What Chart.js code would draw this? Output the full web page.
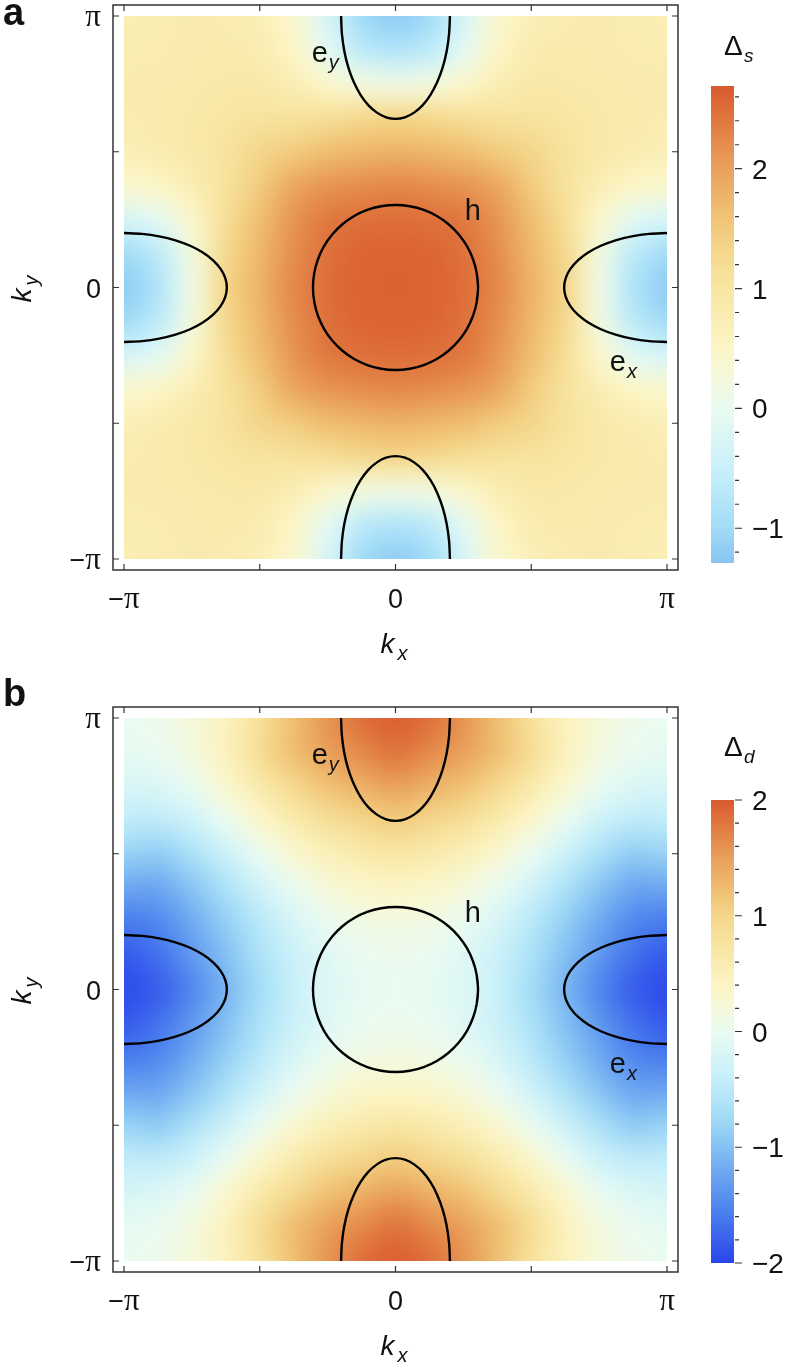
<!DOCTYPE html>
<html>
<head>
<meta charset="utf-8">
<script src="https://cdn.jsdelivr.net/npm/chart.js@4.4.1/dist/chart.umd.min.js"></script>
<style>
  body { margin: 0; background: #fff; width: 788px; height: 1366px; position: relative; overflow: hidden; }
  canvas { position: absolute; }
</style>
</head>
<body>
<canvas id="mapA" width="700" height="670" style="left:0;top:0"></canvas>
<canvas id="barA" width="88" height="670" style="left:700px;top:0"></canvas>
<canvas id="mapB" width="700" height="696" style="left:0;top:670px"></canvas>
<canvas id="barB" width="88" height="696" style="left:700px;top:670px"></canvas>
<script>
const PI = Math.PI;

// axis ticks of both maps (multiples of pi/2)
const kTickValues = [-PI, -PI / 2, 0, PI / 2, PI];
const kTickLabels = ['−π', '', '0', '', 'π'];

// sampled gap values, rows go from ky = pi (top) to ky = -pi, columns kx = -pi .. pi, step pi/8
const gridStep = PI / 8;
const deltaS = [
  [0.75, 0.78, 0.82, 0.80, 0.70, 0.40, -0.30, -1.00, -1.20, -1.00, -0.30, 0.40, 0.70, 0.80, 0.82, 0.78, 0.75],
  [0.78, 0.80, 0.82, 0.85, 0.80, 0.50, -0.10, -0.65, -0.80, -0.65, -0.10, 0.50, 0.80, 0.85, 0.82, 0.80, 0.78],
  [0.82, 0.82, 0.85, 0.90, 0.90, 0.75, 0.45, 0.22, 0.15, 0.22, 0.45, 0.75, 0.90, 0.90, 0.85, 0.82, 0.82],
  [0.80, 0.85, 0.90, 1.00, 1.05, 1.08, 1.15, 1.28, 1.35, 1.28, 1.15, 1.08, 1.05, 1.00, 0.90, 0.85, 0.80],
  [0.70, 0.80, 0.90, 1.05, 1.35, 1.48, 1.65, 1.74, 1.80, 1.74, 1.65, 1.48, 1.35, 1.05, 0.90, 0.80, 0.70],
  [0.40, 0.50, 0.75, 1.08, 1.48, 1.95, 2.12, 2.20, 2.25, 2.20, 2.12, 1.95, 1.48, 1.08, 0.75, 0.50, 0.40],
  [-0.30, -0.10, 0.45, 1.15, 1.65, 2.12, 2.40, 2.47, 2.50, 2.47, 2.40, 2.12, 1.65, 1.15, 0.45, -0.10, -0.30],
  [-1.00, -0.65, 0.22, 1.28, 1.74, 2.20, 2.47, 2.58, 2.60, 2.58, 2.47, 2.20, 1.74, 1.28, 0.22, -0.65, -1.00],
  [-1.20, -0.80, 0.15, 1.35, 1.80, 2.25, 2.50, 2.60, 2.62, 2.60, 2.50, 2.25, 1.80, 1.35, 0.15, -0.80, -1.20],
  [-1.00, -0.65, 0.22, 1.28, 1.74, 2.20, 2.47, 2.58, 2.60, 2.58, 2.47, 2.20, 1.74, 1.28, 0.22, -0.65, -1.00],
  [-0.30, -0.10, 0.45, 1.15, 1.65, 2.12, 2.40, 2.47, 2.50, 2.47, 2.40, 2.12, 1.65, 1.15, 0.45, -0.10, -0.30],
  [0.40, 0.50, 0.75, 1.08, 1.48, 1.95, 2.12, 2.20, 2.25, 2.20, 2.12, 1.95, 1.48, 1.08, 0.75, 0.50, 0.40],
  [0.70, 0.80, 0.90, 1.05, 1.35, 1.48, 1.65, 1.74, 1.80, 1.74, 1.65, 1.48, 1.35, 1.05, 0.90, 0.80, 0.70],
  [0.80, 0.85, 0.90, 1.00, 1.05, 1.08, 1.15, 1.28, 1.35, 1.28, 1.15, 1.08, 1.05, 1.00, 0.90, 0.85, 0.80],
  [0.82, 0.82, 0.85, 0.90, 0.90, 0.75, 0.45, 0.22, 0.15, 0.22, 0.45, 0.75, 0.90, 0.90, 0.85, 0.82, 0.82],
  [0.78, 0.80, 0.82, 0.85, 0.80, 0.50, -0.10, -0.65, -0.80, -0.65, -0.10, 0.50, 0.80, 0.85, 0.82, 0.80, 0.78],
  [0.75, 0.78, 0.82, 0.80, 0.70, 0.40, -0.30, -1.00, -1.20, -1.00, -0.30, 0.40, 0.70, 0.80, 0.82, 0.78, 0.75]
];
const deltaD = [
  [0.00, 0.05, 0.21, 0.46, 0.82, 1.22, 1.59, 1.85, 1.95, 1.85, 1.59, 1.22, 0.82, 0.46, 0.21, 0.05, 0.00],
  [-0.05, 0.00, 0.17, 0.47, 0.89, 1.23, 1.50, 1.67, 1.82, 1.67, 1.50, 1.23, 0.89, 0.47, 0.17, 0.00, -0.05],
  [-0.21, -0.17, 0.00, 0.31, 0.65, 0.96, 1.20, 1.36, 1.50, 1.36, 1.20, 0.96, 0.65, 0.31, 0.00, -0.17, -0.21],
  [-0.46, -0.47, -0.31, 0.00, 0.33, 0.63, 0.86, 1.00, 1.10, 1.00, 0.86, 0.63, 0.33, 0.00, -0.31, -0.47, -0.46],
  [-0.82, -0.89, -0.65, -0.33, 0.00, 0.29, 0.51, 0.64, 0.72, 0.64, 0.51, 0.29, 0.00, -0.33, -0.65, -0.89, -0.82],
  [-1.22, -1.23, -0.96, -0.63, -0.29, 0.00, 0.21, 0.34, 0.38, 0.34, 0.21, 0.00, -0.29, -0.63, -0.96, -1.23, -1.22],
  [-1.59, -1.50, -1.20, -0.86, -0.51, -0.21, 0.00, 0.12, 0.15, 0.12, 0.00, -0.21, -0.51, -0.86, -1.20, -1.50, -1.59],
  [-1.85, -1.67, -1.36, -1.00, -0.64, -0.34, -0.12, 0.00, 0.04, 0.00, -0.12, -0.34, -0.64, -1.00, -1.36, -1.67, -1.85],
  [-1.95, -1.82, -1.50, -1.10, -0.72, -0.38, -0.15, -0.04, 0.00, -0.04, -0.15, -0.38, -0.72, -1.10, -1.50, -1.82, -1.95],
  [-1.85, -1.67, -1.36, -1.00, -0.64, -0.34, -0.12, 0.00, 0.04, 0.00, -0.12, -0.34, -0.64, -1.00, -1.36, -1.67, -1.85],
  [-1.59, -1.50, -1.20, -0.86, -0.51, -0.21, 0.00, 0.12, 0.15, 0.12, 0.00, -0.21, -0.51, -0.86, -1.20, -1.50, -1.59],
  [-1.22, -1.23, -0.96, -0.63, -0.29, 0.00, 0.21, 0.34, 0.38, 0.34, 0.21, 0.00, -0.29, -0.63, -0.96, -1.23, -1.22],
  [-0.82, -0.89, -0.65, -0.33, 0.00, 0.29, 0.51, 0.64, 0.72, 0.64, 0.51, 0.29, 0.00, -0.33, -0.65, -0.89, -0.82],
  [-0.46, -0.47, -0.31, 0.00, 0.33, 0.63, 0.86, 1.00, 1.10, 1.00, 0.86, 0.63, 0.33, 0.00, -0.31, -0.47, -0.46],
  [-0.21, -0.17, 0.00, 0.31, 0.65, 0.96, 1.20, 1.36, 1.50, 1.36, 1.20, 0.96, 0.65, 0.31, 0.00, -0.17, -0.21],
  [-0.05, 0.00, 0.17, 0.47, 0.89, 1.23, 1.50, 1.67, 1.82, 1.67, 1.50, 1.23, 0.89, 0.47, 0.17, 0.00, -0.05],
  [0.00, 0.05, 0.21, 0.46, 0.82, 1.22, 1.59, 1.85, 1.95, 1.85, 1.59, 1.22, 0.82, 0.46, 0.21, 0.05, 0.00]
];

// Fermi surface: hole pocket around Gamma, traced every 10 degrees (first and last points wrap round)
const hPocketKx = [0.940, 0.955, 0.940, 0.897, 0.827, 0.732, 0.614, 0.478, 0.327, 0.166, 0,
  -0.166, -0.327, -0.478, -0.614, -0.732, -0.827, -0.897, -0.940, -0.955,
  -0.940, -0.897, -0.827, -0.732, -0.614, -0.478, -0.327, -0.166, 0,
  0.166, 0.327, 0.478, 0.614, 0.732, 0.827, 0.897, 0.940, 0.955, 0.940];
const hPocketKy = [-0.166, 0, 0.166, 0.327, 0.478, 0.614, 0.732, 0.827, 0.897, 0.940, 0.955,
  0.940, 0.897, 0.827, 0.732, 0.614, 0.478, 0.327, 0.166, 0,
  -0.166, -0.327, -0.478, -0.614, -0.732, -0.827, -0.897, -0.940, -0.955,
  -0.940, -0.897, -0.827, -0.732, -0.614, -0.478, -0.327, -0.166, 0, 0.166];
// electron pockets: offset along the zone edge and depth measured in from the edge
const pocketAcross = [-0.630, -0.620, -0.592, -0.546, -0.483, -0.405, -0.315, -0.215, -0.109, 0,
  0.109, 0.215, 0.315, 0.405, 0.483, 0.546, 0.592, 0.620, 0.630];
const pocketDepth = [0, 0.207, 0.407, 0.595, 0.765, 0.912, 1.031, 1.118, 1.172, 1.190,
  1.172, 1.118, 1.031, 0.912, 0.765, 0.595, 0.407, 0.207, 0];

// colour bars
const sRange = [-1.29, 2.69];
const sBarTicks = [-1, 0, 1, 2];
const sBarLabels = ['−1', '0', '1', '2'];
const dRange = [-2, 2];
const dBarTicks = [-2, -1, 0, 1, 2];
const dBarLabels = ['−2', '−1', '0', '1', '2'];

const cmapStops = [
  [-1.00, [42, 69, 234]],
  [-0.75, [80, 136, 238]],
  [-0.50, [132, 192, 243]],
  [-0.37, [162, 220, 246]],
  [-0.20, [198, 239, 250]],
  [0.00, [234, 251, 241]],
  [0.18, [252, 246, 200]],
  [0.37, [248, 230, 162]],
  [0.50, [244, 214, 138]],
  [0.62, [239, 189, 112]],
  [0.75, [233, 160, 90]],
  [0.88, [225, 124, 66]],
  [1.00, [217, 89, 45]]
];

function cmap(t) {
  t = Math.max(-1, Math.min(1, t));
  for (let i = 1; i < cmapStops.length; i++) {
    const [t1, c1] = cmapStops[i];
    const [t0, c0] = cmapStops[i - 1];
    if (t <= t1) {
      const f = (t - t0) / (t1 - t0);
      return c0.map((c, k) => Math.round(c + (c1[k] - c) * f));
    }
  }
  return cmapStops[cmapStops.length - 1][1];
}

const SANS = '"Liberation Sans", Arial, sans-serif';
const SERIF = '"Liberation Serif", "Times New Roman", serif';

// labels like "−π" mix a sans minus with a serif pi
function drawLabel(ctx, label, x, y, align) {
  const parts = label.split('').map(ch => ({ ch, font: ch === 'π' ? '31px ' + SERIF : '27px ' + SANS }));
  let w = 0;
  parts.forEach(p => { ctx.font = p.font; p.w = ctx.measureText(p.ch).width; w += p.w; });
  let cx = align === 'right' ? x - w : align === 'center' ? x - w / 2 : x;
  ctx.textAlign = 'left';
  parts.forEach(p => { ctx.font = p.font; ctx.fillText(p.ch, cx, y); cx += p.w; });
}

const heatPlugin = {
  id: 'heat',
  beforeDatasetsDraw(chart, args, opts) {
    const { ctx, chartArea: a, scales: { x, y } } = chart;
    const grid = opts.grid;
    const n = grid.length;
    const off = document.createElement('canvas');
    off.width = n; off.height = n;
    const octx = off.getContext('2d');
    const img = octx.createImageData(n, n);
    grid.forEach((row, r) => row.forEach((v, c) => {
      const col = cmap(v / opts.scale);
      const k = (r * n + c) * 4;
      img.data[k] = col[0]; img.data[k + 1] = col[1]; img.data[k + 2] = col[2]; img.data[k + 3] = 255;
    }));
    octx.putImageData(img, 0, 0);
    const half = gridStep / 2;
    const x0 = x.getPixelForValue(-PI - half), x1 = x.getPixelForValue(PI + half);
    const y0 = y.getPixelForValue(PI + half), y1 = y.getPixelForValue(-PI - half);
    ctx.save();
    ctx.beginPath();
    ctx.rect(a.left, a.top, a.right - a.left, a.bottom - a.top);
    ctx.clip();
    ctx.imageSmoothingEnabled = true;
    ctx.imageSmoothingQuality = 'high';
    ctx.drawImage(off, x0, y0, x1 - x0, y1 - y0);
    ctx.restore();
  }
};

const framePlugin = {
  id: 'frame',
  afterDraw(chart, args, o) {
    const { ctx, chartArea: a, scales: { x, y } } = chart;
    const g = 11;
    const L = a.left - g, R = a.right + g, T = a.top - g, B = a.bottom + g;
    ctx.save();
    ctx.strokeStyle = '#333';
    ctx.lineWidth = 1.5;
    ctx.strokeRect(L, T, R - L, B - T);
    ctx.lineWidth = 1.2;
    ctx.beginPath();
    kTickValues.forEach(v => {
      const px = x.getPixelForValue(v), py = y.getPixelForValue(v);
      ctx.moveTo(px, B); ctx.lineTo(px, B - 6);
      ctx.moveTo(px, T); ctx.lineTo(px, T + 6);
      ctx.moveTo(L, py); ctx.lineTo(L + 6, py);
      ctx.moveTo(R, py); ctx.lineTo(R - 6, py);
    });
    ctx.stroke();

    ctx.fillStyle = '#111';
    kTickValues.forEach((v, i) => {
      if (!kTickLabels[i]) return;
      drawLabel(ctx, kTickLabels[i], x.getPixelForValue(v), a.bottom + 49, 'center');
      drawLabel(ctx, kTickLabels[i], L - 12, y.getPixelForValue(v) + 10, 'right');
    });

    // axis titles
    const cx = x.getPixelForValue(0);
    ctx.textAlign = 'left';
    ctx.font = 'italic 28px ' + SANS;
    ctx.fillText('k', cx - 15, a.bottom + 94);
    ctx.font = 'italic 20px ' + SANS;
    ctx.fillText('x', cx + 2, a.bottom + 101);

    ctx.save();
    ctx.translate(31, y.getPixelForValue(0));
    ctx.rotate(-PI / 2);
    ctx.font = 'italic 28px ' + SANS;
    ctx.fillText('k', -15, 0);
    ctx.font = 'italic 20px ' + SANS;
    ctx.fillText('y', 2, 7);
    ctx.restore();

    // panel letter
    ctx.font = 'bold 38px ' + SANS;
    ctx.fillText(o.letter, 3, o.letterY);

    // pocket names
    o.names.forEach(nm => {
      const px = x.getPixelForValue(nm.kx), py = y.getPixelForValue(nm.ky);
      ctx.font = '29px ' + SANS;
      ctx.fillText(nm.t, px, py);
      if (nm.sub) {
        const w = ctx.measureText(nm.t).width;
        ctx.font = 'italic 20px ' + SANS;
        ctx.fillText(nm.sub, px + w + 1, py + 7);
      }
    });
    ctx.restore();
  }
};

function pocketSets() {
  const line = pts => ({
    data: pts,
    showLine: true,
    borderColor: '#000',
    borderWidth: 2.4,
    pointRadius: 0,
    tension: 0.3,
    fill: false,
    borderJoinStyle: 'round'
  });
  return [
    line(hPocketKx.map((kx, i) => ({ x: kx, y: hPocketKy[i] }))),
    line(pocketAcross.map((s, i) => ({ x: s, y: PI - pocketDepth[i] }))),
    line(pocketAcross.map((s, i) => ({ x: s, y: -PI + pocketDepth[i] }))),
    line(pocketAcross.map((s, i) => ({ x: PI - pocketDepth[i], y: s }))),
    line(pocketAcross.map((s, i) => ({ x: -PI + pocketDepth[i], y: s })))
  ];
}

const pocketNames = [
  { t: 'h', kx: 0.80, ky: 0.78 },
  { t: 'e', sub: 'y', kx: -0.97, ky: 2.61 },
  { t: 'e', sub: 'x', kx: 2.48, ky: -0.97 }
];

function buildMap(id, grid, scale, letter, letterY, top, bottom) {
  return new Chart(document.getElementById(id), {
    type: 'scatter',
    data: { datasets: pocketSets() },
    options: {
      responsive: false,
      animation: false,
      events: [],
      layout: { padding: { left: 124, right: 33, top, bottom } },
      scales: {
        x: { type: 'linear', min: -PI, max: PI, display: false },
        y: { type: 'linear', min: -PI, max: PI, display: false }
      },
      plugins: {
        legend: { display: false },
        tooltip: { enabled: false },
        heat: { grid, scale },
        frame: { letter, letterY, names: pocketNames }
      }
    },
    plugins: [heatPlugin, framePlugin]
  });
}

const barPlugin = {
  id: 'cbar',
  afterDraw(chart, args, o) {
    const { ctx, chartArea: a, scales: { y } } = chart;
    ctx.save();
    ctx.strokeStyle = '#333';
    ctx.lineWidth = 1.2;
    ctx.beginPath();
    for (let k = Math.ceil(o.range[0] * 5 - 1e-6); k <= Math.floor(o.range[1] * 5 + 1e-6); k++) {
      const py = y.getPixelForValue(k / 5);
      ctx.moveTo(a.right + 1, py);
      ctx.lineTo(a.right + (k % 5 === 0 ? 8 : 5), py);
    }
    ctx.stroke();
    ctx.fillStyle = '#111';
    ctx.textAlign = 'left';
    ctx.font = '28px ' + SANS;
    o.ticks.forEach((v, i) => ctx.fillText(o.labels[i], a.right + 18, y.getPixelForValue(v) + 10));
    ctx.font = '28px ' + SANS;
    ctx.fillText('Δ', a.left + 13, o.titleY);
    ctx.font = 'italic 19px ' + SANS;
    ctx.fillText(o.sub, a.left + 33, o.titleY + 7);
    ctx.restore();
  }
};

function buildBar(id, range, scale, ticks, labels, sub, titleY, top, bottom) {
  return new Chart(document.getElementById(id), {
    type: 'bar',
    data: {
      labels: [''],
      datasets: [{
        data: [range],
        borderWidth: 0,
        barPercentage: 1,
        categoryPercentage: 1,
        backgroundColor: c => {
          const { chart } = c;
          if (!chart.chartArea) return '#fff';
          const yS = chart.scales.y;
          const p0 = yS.getPixelForValue(range[0]), p1 = yS.getPixelForValue(range[1]);
          const grad = chart.ctx.createLinearGradient(0, p0, 0, p1);
          for (let i = 0; i <= 40; i++) {
            const v = range[0] + (range[1] - range[0]) * i / 40;
            const col = cmap(v / scale);
            grad.addColorStop(i / 40, `rgb(${col[0]},${col[1]},${col[2]})`);
          }
          return grad;
        }
      }]
    },
    options: {
      responsive: false,
      animation: false,
      events: [],
      layout: { padding: { left: 11, right: 54, top, bottom } },
      scales: {
        x: { display: false },
        y: { min: range[0], max: range[1], display: false }
      },
      plugins: {
        legend: { display: false },
        tooltip: { enabled: false },
        cbar: { range, ticks, labels, sub, titleY }
      }
    },
    plugins: [barPlugin]
  });
}

buildMap('mapA', deltaS, sRange[1], 'a', 25, 16, 111);
buildBar('barA', sRange, sRange[1], sBarTicks, sBarLabels, 's', 55, 86, 107);
buildMap('mapB', deltaD, dRange[1], 'b', 36, 48, 105);
buildBar('barB', dRange, dRange[1], dBarTicks, dBarLabels, 'd', 86, 130, 103);
</script>
</body>
</html>
